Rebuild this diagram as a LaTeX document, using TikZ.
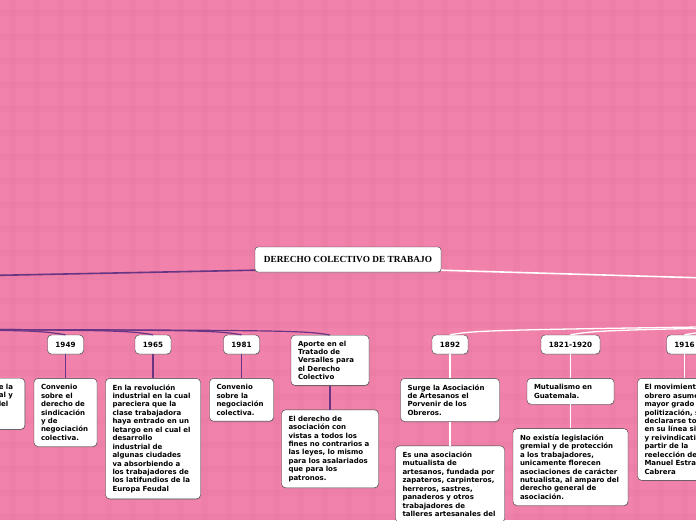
\documentclass[tikz,border=0pt]{standalone}
\usepackage{fontspec}
\setsansfont{DejaVu Sans}
\newfontfamily\titlefont{Liberation Serif}
\usetikzlibrary{positioning, shadows}
\definecolor{bgpink}{RGB}{241,130,171}
\definecolor{gridpink}{RGB}{226,116,157}
\definecolor{branchpurple}{RGB}{104,52,132}
\definecolor{boxline}{RGB}{55,55,55}

\begin{document}
\begin{tikzpicture}[
      x=1pt, y=-1pt,
      node distance=24pt,
      every node/.style={font=\sffamily\bfseries\fontsize{7}{8.45}\selectfont},
      topic/.style={draw=boxline, fill=white, rounded corners=4pt, align=left,
                    inner xsep=7pt, inner ysep=6pt,
                    drop shadow={shadow xshift=0.7pt, shadow yshift=-0.9pt, opacity=0.35}},
      year/.style={topic, align=center, minimum width=36pt, minimum height=19pt,
                   inner ysep=2pt, font=\sffamily\bfseries\fontsize{7.2}{8}\selectfont},
      purpleline/.style={draw=branchpurple, line width=1.2pt},
      whiteline/.style={draw=white, line width=1.3pt},
    ]

    \useasboundingbox (0,0) rectangle (696,520);
    \clip (0,0) rectangle (696,520);

    % Fondo
    \fill[bgpink] (0,0) rectangle (696,520);
    \foreach \gx in {12,36,...,696}
      \draw[gridpink, line width=7pt, opacity=0.2] (\gx,0) -- (\gx,520);
    \foreach \gy in {12,36,...,520}
      \draw[gridpink, line width=7pt, opacity=0.2] (0,\gy) -- (696,\gy);

    % Tema central
    \node[draw=boxline, fill=white, rounded corners=3pt, minimum width=186pt,
          minimum height=25pt, font=\titlefont\bfseries\fontsize{9.3}{10}\selectfont,
          drop shadow={shadow xshift=0.7pt, shadow yshift=-1pt, opacity=0.35}]
      (cent) at (348,259.5) {DERECHO COLECTIVO DE TRABAJO};

    \coordinate (leftmain)  at (-10,275.5);
    \coordinate (rightmain) at (706,278);
    \draw[purpleline, line width=1.6pt] ([yshift=2pt]cent.south west) -- (leftmain);
    \draw[whiteline, line width=1.6pt] ([yshift=2pt]cent.south east) -- (rightmain);

    % Fechas
    \node[year] (y1949) at (65.5,344.5) {1949};
    \node[year] (y1965) at (153,344.5)  {1965};
    \node[year] (y1981) at (241.5,344.5){1981};
    \node[topic, anchor=north, text width=64pt, inner ysep=5.5pt] (aporte) at (330,335)
      {Aporte en el\\Tratado de\\Versalles para\\el Derecho\\Colectivo};
    \node[year] (y1892) at (450,344.5)  {1892};
    \node[year, minimum width=59pt] (y1821) at (570.5,344.5) {1821-1920};
    \node[year] (y1916) at (684.5,344.5){1916};

    % Contenidos
    \node[topic, anchor=north east, text width=19pt] (cprev) at (25,378)
      {e la\\al y\\lel\\\mbox{}\\\mbox{}};
    \node[topic, below=of y1949, text width=49pt] (c1949)
      {Convenio\\sobre el\\derecho de\\sindicación\\y de\\negociación\\colectiva.};
    \node[topic, below=of y1965, text width=81pt] (c1965)
      {En la revolución\\industrial en la cual\\pareciera que la\\clase trabajadora\\haya entrado en un\\letargo en el cual el\\desarrollo\\industrial de\\algunas ciudades\\va absorbiendo a\\los trabajadores de\\los latifundios de la\\Europa Feudal};
    \node[topic, below=of y1981, text width=50pt] (c1981)
      {Convenio\\sobre la\\negociación\\colectiva.};
    \node[topic, below=of aporte, text width=83pt] (caporte)
      {El derecho de\\asociación con\\vistas a todos los\\fines no contrarios a\\las leyes, lo mismo\\para los asalariados\\que para los\\patronos.};
    \node[topic, below=of y1892, text width=85pt] (c1892)
      {Surge la Asociación\\de Artesanos el\\Porvenir de los\\Obreros.};
    \node[topic, below=of c1892, text width=95pt] (m1892)
      {Es una asociación\\mutualista de\\artesanos, fundada por\\zapateros, carpinteros,\\herreros, sastres,\\panaderos y otros\\trabajadores de\\talleres artesanales del};
    \node[topic, below=of y1821, text width=73pt] (c1821)
      {Mutualismo en\\Guatemala.};
    \node[topic, below=of c1821, text width=101pt] (m1821)
      {No existía legislación\\gremial y de protección\\a los trabajadores,\\unicamente florecen\\asociaciones de carácter\\nutualista, al amparo del\\derecho general de\\asociación.};
    \node[topic, below=of y1916, text width=80pt] (c1916)
      {\mbox{El movimiento}\\\mbox{obrero asume}\\\mbox{mayor grado de}\\\mbox{politización, sin}\\\mbox{declararse totalmente}\\\mbox{en su línea sindical}\\\mbox{y reivindicativa a}\\partir de la\\reelección de\\\mbox{Manuel Estrada}\\Cabrera};

    % Conectores rama izquierda
    \coordinate (leftfeed) at (-300,329);
    \foreach \t in {y1949, y1965, y1981, aporte}
      \draw[purpleline] (leftfeed) .. controls ([xshift=-30pt, yshift=5pt]\t.north) .. (\t.north);
    \foreach \a/\b in {y1949/c1949, y1965/c1965, y1981/c1981, aporte/caporte}
      \draw[purpleline] (\a) -- (\b);

    % Conectores rama derecha
    \coordinate (rightfeed) at (1000,323);
    \foreach \t in {y1892, y1821, y1916}
      \draw[whiteline] (rightfeed) .. controls ([xshift=30pt, yshift=5pt]\t.north) .. (\t.north);
    \foreach \a/\b in {y1892/c1892, c1892/m1892, y1821/c1821, c1821/m1821, y1916/c1916}
      \draw[whiteline] (\a) -- (\b);

  \end{tikzpicture}
\end{document}
